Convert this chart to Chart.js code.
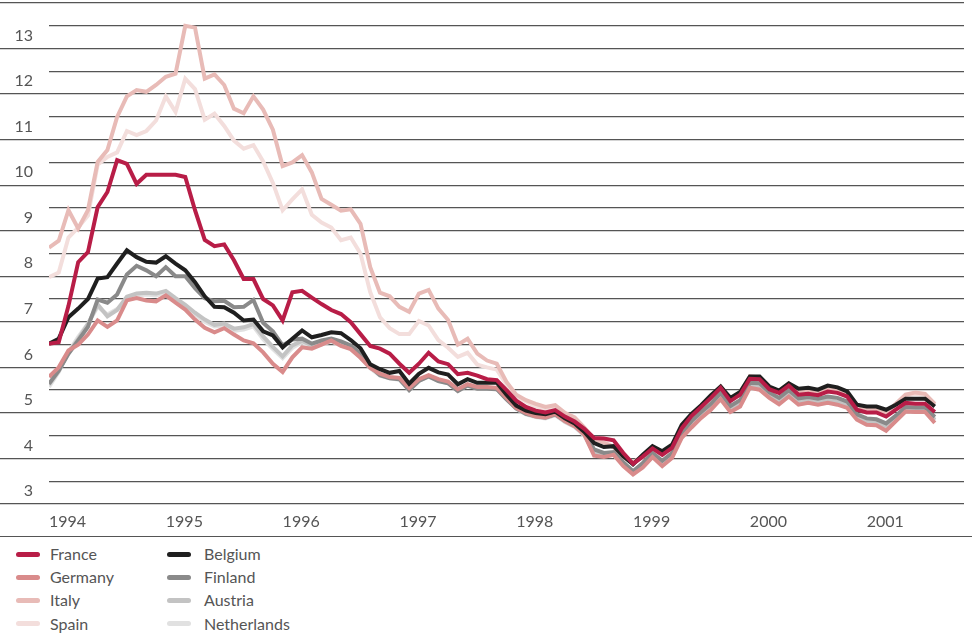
<!DOCTYPE html>
<html>
<head>
<meta charset="utf-8">
<script src="https://cdn.jsdelivr.net/npm/chart.js@4"></script>
<style>
  body { margin: 0; background: #fff; font-family: Lato, "Open Sans", sans-serif; }
  #wrap { position: relative; width: 972px; height: 536px; }
  #legend { position: relative; width: 972px; height: 96px; border-top: 1.5px solid #555; }
  .swatch { position: absolute; width: 24px; height: 5px; border-radius: 3px; }
  .label { position: absolute; font-size: 16px; color: #555; line-height: 20px; }
</style>
</head>
<body>
<div id="wrap"><canvas id="chart"></canvas></div>
<div id="legend"></div>
<script>
// monthly values, Jan 1994 - Aug 2001
const years = ["1994", "1995", "1996", "1997", "1998", "1999", "2000", "2001"];

const france = [6.52, 6.55, 7.35, 8.31, 8.53, 9.52, 9.85, 10.55, 10.47, 10.03, 10.23, 10.23, 10.23, 10.23, 10.18, 9.45,
  8.8, 8.66, 8.7, 8.35, 7.94, 7.94, 7.5, 7.36, 7.03, 7.65, 7.68, 7.53, 7.39, 7.26, 7.17, 6.99,
  6.73, 6.47, 6.41, 6.3, 6.08, 5.88, 6.08, 6.32, 6.13, 6.07, 5.85, 5.88, 5.82, 5.74, 5.72, 5.5,
  5.27, 5.13, 5.05, 5.01, 5.06, 4.92, 4.81, 4.65, 4.45, 4.44, 4.4, 4.12, 3.88, 4.04, 4.22, 4.08,
  4.23, 4.66, 4.93, 5.13, 5.33, 5.55, 5.26, 5.4, 5.75, 5.74, 5.52, 5.44, 5.6, 5.4, 5.42, 5.39,
  5.47, 5.44, 5.36, 5.07, 5.01, 5.01, 4.92, 5.07, 5.22, 5.2, 5.2, 5.02];

const germany = [5.79, 6.0, 6.37, 6.5, 6.72, 7.03, 6.89, 7.03, 7.47, 7.52, 7.47, 7.45, 7.58, 7.42, 7.27, 7.05,
  6.87, 6.77, 6.86, 6.72, 6.59, 6.53, 6.33, 6.08, 5.9, 6.22, 6.44, 6.41, 6.5, 6.59, 6.47, 6.4,
  6.21, 5.99, 5.86, 5.79, 5.77, 5.55, 5.74, 5.83, 5.74, 5.69, 5.52, 5.63, 5.57, 5.57, 5.55, 5.33,
  5.11, 5.0, 4.92, 4.9, 4.98, 4.82, 4.71, 4.52, 4.06, 4.03, 4.08, 3.83, 3.65, 3.8, 4.03, 3.83,
  4.01, 4.45, 4.68, 4.89, 5.07, 5.3, 5.02, 5.14, 5.55, 5.51, 5.33, 5.19, 5.36, 5.18, 5.22, 5.18,
  5.22, 5.18, 5.11, 4.85, 4.74, 4.73, 4.61, 4.82, 5.03, 5.02, 5.02, 4.78];

const italy = [8.63, 8.78, 9.45, 9.05, 9.45, 10.51, 10.77, 11.5, 11.95, 12.09, 12.05, 12.2, 12.38, 12.45, 13.5, 13.46,
  12.34, 12.43, 12.2, 11.68, 11.58, 11.95, 11.66, 11.22, 10.42, 10.5, 10.66, 10.28, 9.7, 9.57, 9.44, 9.47,
  9.15, 8.2, 7.64, 7.56, 7.33, 7.22, 7.62, 7.7, 7.29, 7.04, 6.5, 6.63, 6.3, 6.15, 6.08, 5.68,
  5.4, 5.28, 5.2, 5.13, 5.17, 5.0, 4.9, 4.68, 4.42, 4.35, 4.25, 4.05, 3.92, 4.05, 4.22, 4.1,
  4.25, 4.68, 4.95, 5.15, 5.36, 5.58, 5.3, 5.45, 5.8, 5.78, 5.56, 5.48, 5.65, 5.46, 5.48, 5.45,
  5.52, 5.5, 5.42, 5.15, 5.1, 5.08, 5.0, 5.2, 5.4, 5.45, 5.42, 5.2];

const spain = [7.98, 8.08, 8.85, 9.07, 9.33, 10.45, 10.62, 10.72, 11.19, 11.1, 11.19, 11.42, 11.95, 11.61, 12.34, 12.11,
  11.44, 11.57, 11.3, 10.98, 10.8, 10.88, 10.52, 10.05, 9.45, 9.69, 9.91, 9.35, 9.18, 9.07, 8.79, 8.85,
  8.5, 7.65, 7.1, 6.86, 6.73, 6.73, 7.02, 6.92, 6.6, 6.43, 6.23, 6.32, 6.06, 6.0, 5.95, 5.62,
  5.37, 5.25, 5.14, 5.08, 5.11, 4.96, 4.86, 4.67, 4.42, 4.38, 4.25, 4.03, 3.9, 4.03, 4.2, 4.08,
  4.22, 4.65, 4.92, 5.12, 5.33, 5.55, 5.27, 5.42, 5.77, 5.75, 5.53, 5.46, 5.62, 5.44, 5.46, 5.43,
  5.5, 5.48, 5.4, 5.12, 5.06, 5.05, 4.98, 5.16, 5.38, 5.42, 5.4, 5.17];

const belgium = [6.52, 6.63, 7.1, 7.29, 7.5, 7.95, 7.98, 8.28, 8.57, 8.42, 8.32, 8.3, 8.44, 8.28, 8.13, 7.87,
  7.56, 7.33, 7.32, 7.2, 7.03, 7.05, 6.79, 6.7, 6.44, 6.63, 6.81, 6.66, 6.71, 6.77, 6.75, 6.6,
  6.42, 6.07, 5.96, 5.88, 5.92, 5.64, 5.86, 5.99, 5.89, 5.84, 5.63, 5.74, 5.66, 5.66, 5.66, 5.4,
  5.16, 5.05, 5.0, 4.97, 5.03, 4.88, 4.77, 4.58, 4.34, 4.25, 4.27, 4.05, 3.87, 4.08, 4.27, 4.16,
  4.3, 4.74, 4.98, 5.17, 5.39, 5.58, 5.33, 5.46, 5.8, 5.8, 5.58, 5.49, 5.65, 5.53, 5.55, 5.51,
  5.6, 5.56, 5.47, 5.18, 5.14, 5.14, 5.07, 5.18, 5.31, 5.31, 5.31, 5.14];

const finland = [5.64, 5.93, 6.3, 6.59, 6.89, 7.49, 7.42, 7.6, 8.04, 8.23, 8.13, 8.0, 8.2, 8.0, 8.0, 7.74,
  7.52, 7.45, 7.46, 7.32, 7.33, 7.48, 6.98, 6.79, 6.48, 6.61, 6.63, 6.52, 6.59, 6.63, 6.57, 6.48,
  6.3, 6.02, 5.83, 5.76, 5.74, 5.5, 5.7, 5.8, 5.7, 5.65, 5.48, 5.6, 5.53, 5.53, 5.52, 5.3,
  5.1, 4.98, 4.93, 4.9, 4.97, 4.83, 4.73, 4.55, 4.2, 4.12, 4.14, 3.92, 3.72, 3.9, 4.12, 3.95,
  4.12, 4.56, 4.82, 5.02, 5.2, 5.44, 5.15, 5.28, 5.66, 5.65, 5.45, 5.33, 5.5, 5.32, 5.35, 5.31,
  5.36, 5.33, 5.25, 4.97, 4.88, 4.86, 4.77, 4.94, 5.13, 5.12, 5.12, 4.91];

const austria = [5.62, 5.92, 6.32, 6.62, 6.95, 7.38, 7.12, 7.26, 7.55, 7.62, 7.64, 7.62, 7.68, 7.52, 7.37, 7.2,
  7.05, 6.93, 6.96, 6.85, 6.88, 6.95, 6.68, 6.45, 6.24, 6.48, 6.58, 6.48, 6.52, 6.58, 6.5, 6.43,
  6.25, 6.0, 5.84, 5.78, 5.75, 5.52, 5.72, 5.81, 5.72, 5.66, 5.5, 5.61, 5.55, 5.55, 5.53, 5.31,
  5.1, 4.98, 4.92, 4.89, 4.96, 4.81, 4.7, 4.52, 4.12, 4.06, 4.1, 3.87, 3.68, 3.84, 4.07, 3.88,
  4.06, 4.5, 4.74, 4.95, 5.13, 5.37, 5.08, 5.2, 5.6, 5.57, 5.38, 5.25, 5.42, 5.25, 5.28, 5.24,
  5.29, 5.25, 5.18, 4.91, 4.81, 4.8, 4.7, 4.88, 5.08, 5.07, 5.07, 4.85];

const netherlands = [5.57, 5.9, 6.34, 6.67, 6.96, 7.33, 7.16, 7.28, 7.5, 7.58, 7.6, 7.58, 7.64, 7.48, 7.33, 7.16,
  7.0, 6.9, 6.92, 6.8, 6.83, 6.9, 6.62, 6.4, 6.2, 6.43, 6.55, 6.45, 6.5, 6.57, 6.48, 6.41,
  6.22, 5.98, 5.82, 5.76, 5.73, 5.5, 5.7, 5.8, 5.7, 5.65, 5.49, 5.6, 5.54, 5.54, 5.52, 5.3,
  5.09, 4.97, 4.91, 4.88, 4.95, 4.8, 4.69, 4.5, 4.1, 4.05, 4.08, 3.85, 3.67, 3.82, 4.05, 3.86,
  4.04, 4.48, 4.72, 4.93, 5.1, 5.34, 5.05, 5.18, 5.58, 5.55, 5.36, 5.23, 5.4, 5.22, 5.26, 5.22,
  5.27, 5.23, 5.16, 4.89, 4.79, 4.78, 4.67, 4.86, 5.06, 5.05, 5.05, 4.83];

const names = ["France", "Germany", "Italy", "Spain", "Belgium", "Finland", "Austria", "Netherlands"];
const colors = ["#b81d47", "#d98b8b", "#e8bbb7", "#f3dedc", "#1f1f1f", "#8a8a8a", "#c3c3c3", "#e1e1e1"];
const values = [france, germany, italy, spain, belgium, finland, austria, netherlands];
// which line sits on top (lower = drawn later)
const drawOrder = [0, 2, 4, 6, 1, 3, 5, 7];

const gridColor = "#555";

const datasets = names.map((name, k) => ({
    label: name,
    data: values[k].map((v, i) => ({ x: i, y: v })),
    borderColor: colors[k],
    borderWidth: 4,
    pointRadius: 0,
    tension: 0,
    fill: false,
    order: drawOrder[k]
}));

new Chart(document.getElementById("chart"), {
    type: "line",
    data: { datasets },
    options: {
        responsive: true,
        maintainAspectRatio: false,
        animation: false,
        layout: { padding: { top: 3, left: 0, right: 0, bottom: 0 } },
        plugins: { legend: { display: false }, tooltip: { enabled: false } },
        scales: {
            x: {
                type: "linear",
                min: 0,
                max: 94,
                afterFit: s => { s.height = 32; },
                grid: { display: false, drawTicks: false },
                border: { display: false },
                ticks: {
                    stepSize: 12,
                    autoSkip: false,
                    maxRotation: 0,
                    align: "start",
                    padding: 8,
                    color: "#555",
                    font: { family: "Lato", size: 16 },
                    callback: v => (v % 12 === 0 ? years[v / 12] : "")
                }
            },
            y: {
                min: 3,
                max: 14,
                afterFit: s => { s.width = 49; },
                grid: {
                    color: gridColor,
                    lineWidth: 1.3,
                    drawTicks: true,
                    tickLength: 49,
                    tickWidth: 1.3,
                    tickColor: ctx => (Number.isInteger(ctx.tick.value) ? gridColor : "rgba(0,0,0,0)")
                },
                border: { display: false },
                ticks: {
                    stepSize: 0.5,
                    autoSkip: false,
                    padding: -33,
                    labelOffset: -13,
                    color: "#555",
                    font: { family: "Lato", size: 16 },
                    callback: v => (Number.isInteger(v) && v < 14 ? String(v) : "")
                }
            }
        }
    }
});

// legend, two columns of four
const legend = document.getElementById("legend");
names.forEach((name, k) => {
    const col = Math.floor(k / 4);
    const row = k % 4;
    const cy = 17 + row * 23.2;
    const sw = document.createElement("div");
    sw.className = "swatch";
    sw.style.background = colors[k];
    sw.style.left = (col === 0 ? 16 : 167) + "px";
    sw.style.top = (cy - 2.5) + "px";
    legend.appendChild(sw);
    const lb = document.createElement("div");
    lb.className = "label";
    lb.textContent = name;
    lb.style.left = (col === 0 ? 50 : 204) + "px";
    lb.style.top = (cy - 10) + "px";
    legend.appendChild(lb);
});
</script>
</body>
</html>
